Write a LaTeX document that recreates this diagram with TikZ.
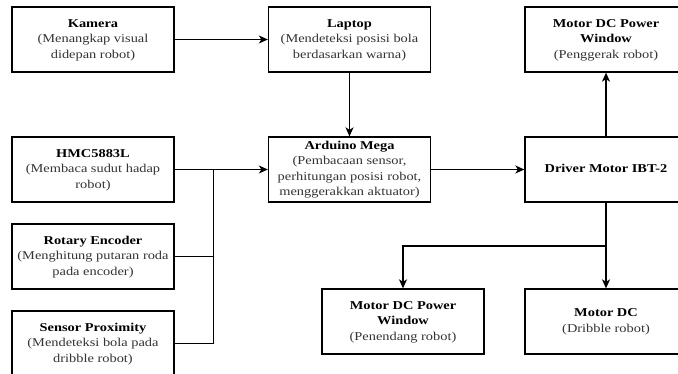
\documentclass[tikz,border=0pt]{standalone}
\usepackage{fontspec}
\usepackage{graphicx}
\setmainfont{Liberation Serif}
\usetikzlibrary{arrows.meta}
\newcommand{\bx}[1]{\raisebox{-1.5pt}{\scalebox{1.2}[1]{\begin{tabular}{@{}c@{}}#1\end{tabular}}}}
\newcommand{\ttl}[1]{\textbf{#1}}
\newcommand{\sub}[1]{\textcolor{black!80}{#1}}
\begin{document}
\begin{tikzpicture}[x=1pt,y=-1pt,
  blk/.style={draw=black,line width=1.3pt,minimum width=162pt,minimum height=65pt,
    inner sep=1pt,align=center,font=\fontsize{12}{15.5}\selectfont},
  conn/.style={draw=black,line width=1.3pt},
  arr/.style={conn,-{Stealth[length=9pt,width=8pt,inset=2.5pt]}}]
\useasboundingbox (0,0) rectangle (678,374);
\begin{scope}
\clip (0,0) rectangle (678,374);
\node[blk] (kam) at (93,39.5) {\bx{\ttl{Kamera}\\\sub{(Menangkap visual}\\\sub{didepan robot)}}};
\node[blk] (lap) at (349.5,39.5) {\bx{\ttl{Laptop}\\\sub{(Mendeteksi posisi bola}\\\sub{berdasarkan warna)}}};
\node[blk] (mtop) at (606,39.5) {\bx{\ttl{Motor DC Power}\\\ttl{Window}\\\sub{(Penggerak robot)}}};
\node[blk] (hmc) at (93,169.5) {\bx{\ttl{HMC5883L}\\\sub{(Membaca sudut hadap}\\\sub{robot)}}};
\node[blk] (ard) at (349.5,169.5) {\bx{\ttl{Arduino Mega}\\\sub{(Pembacaan sensor,}\\\sub{perhitungan posisi robot,}\\\sub{menggerakkan aktuator)}}};
\node[blk] (drv) at (606,169.5) {\bx{\ttl{Driver Motor IBT-2}}};
\node[blk] (rot) at (93,256.5) {\bx{\ttl{Rotary Encoder}\\\sub{(Menghitung putaran roda}\\\sub{pada encoder)}}};
\node[blk] (sen) at (93,343.5) {\bx{\ttl{Sensor Proximity}\\\sub{(Mendeteksi bola pada}\\\sub{dribble robot)}}};
\node[blk] (mpw) at (403,321.5) {\bx{\ttl{Motor DC Power}\\\ttl{Window}\\\sub{(Penendang robot)}}};
\node[blk] (mdc) at (606,321.5) {\bx{\ttl{Motor DC}\\\sub{(Dribble robot)}}};
\end{scope}
\coordinate (bus) at (213.5,169.5);
\coordinate (split) at (606,246);
\draw[arr] (kam) -- (lap);
\draw[arr] (lap) -- (ard);
\draw[arr] (hmc) -- (ard);
\draw[conn] (rot.east) -| (bus);
\draw[conn] (sen.east) -| (bus);
\draw[arr] (ard) -- (drv);
\draw[arr] (drv) -- (mtop);
\draw[arr] (drv) -- (mdc);
\draw[arr] (split) -| (mpw.north);
\end{tikzpicture}
\end{document}
